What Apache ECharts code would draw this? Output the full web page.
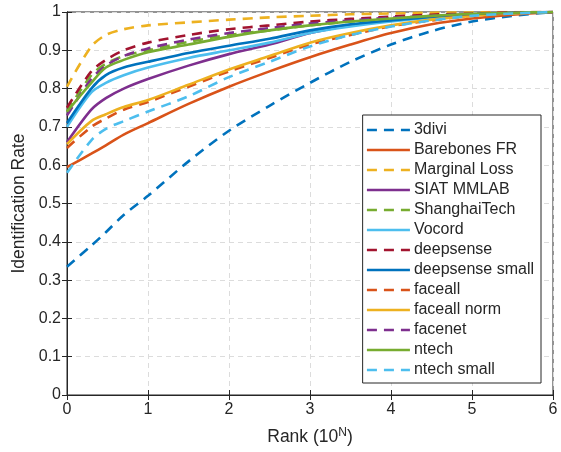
<!DOCTYPE html>
<html>
<head>
<meta charset="utf-8">
<script src="https://cdn.jsdelivr.net/npm/echarts@6/dist/echarts.min.js"></script>
<style>
  html, body { margin: 0; padding: 0; background: #fff; }
  #main { width: 561px; height: 452px; }
</style>
</head>
<body>
<div id="main"></div>
<script>
// log10(rank)
var ranks = [0, 0.3, 0.48, 0.7, 1, 1.5, 2, 2.5, 3, 3.5, 4, 4.5, 5, 5.5, 6];
var xTicks = [0, 1, 2, 3, 4, 5, 6];
var yTicks = [0, 0.1, 0.2, 0.3, 0.4, 0.5, 0.6, 0.7, 0.8, 0.9, 1];

var names = ['3divi', 'Barebones FR', 'Marginal Loss', 'SIAT MMLAB', 'ShanghaiTech', 'Vocord',
  'deepsense', 'deepsense small', 'faceall', 'faceall norm', 'facenet', 'ntech', 'ntech small'];
var colors = ['#0072BD', '#D95319', '#EDB120', '#7E2F8E', '#77AC30', '#4DBEEE',
  '#A2142F', '#0072BD', '#D95319', '#EDB120', '#7E2F8E', '#77AC30', '#4DBEEE'];
var dashed = [true, false, true, false, true, false, true, false, true, false, true, false, true];

var divi3         = [0.335, 0.39, 0.425, 0.47, 0.52, 0.61, 0.69, 0.755, 0.815, 0.87, 0.915, 0.95, 0.975, 0.99, 1];
var barebones     = [0.595, 0.63, 0.652, 0.68, 0.71, 0.76, 0.805, 0.845, 0.882, 0.915, 0.945, 0.968, 0.983, 0.993, 1];
var marginalLoss  = [0.805, 0.91, 0.94, 0.955, 0.965, 0.973, 0.98, 0.986, 0.99, 0.994, 0.996, 0.998, 0.999, 1, 1];
var siatMmlab     = [0.66, 0.745, 0.775, 0.8, 0.825, 0.86, 0.89, 0.915, 0.945, 0.965, 0.978, 0.988, 0.994, 0.998, 1];
var shanghaiTech  = [0.74, 0.835, 0.865, 0.885, 0.9, 0.922, 0.94, 0.952, 0.965, 0.975, 0.983, 0.989, 0.994, 0.998, 1];
var vocord        = [0.70, 0.79, 0.815, 0.835, 0.855, 0.88, 0.9, 0.92, 0.945, 0.962, 0.975, 0.985, 0.992, 0.997, 1];
var deepsense     = [0.75, 0.845, 0.875, 0.9, 0.92, 0.94, 0.955, 0.965, 0.975, 0.982, 0.988, 0.993, 0.996, 0.999, 1];
var deepsenseSm   = [0.71, 0.80, 0.835, 0.855, 0.87, 0.893, 0.912, 0.93, 0.952, 0.968, 0.978, 0.987, 0.993, 0.997, 1];
var faceall       = [0.645, 0.70, 0.722, 0.745, 0.765, 0.805, 0.845, 0.88, 0.915, 0.94, 0.963, 0.978, 0.99, 0.996, 1];
var faceallNorm   = [0.655, 0.715, 0.733, 0.752, 0.77, 0.81, 0.85, 0.885, 0.92, 0.945, 0.965, 0.98, 0.99, 0.996, 1];
var facenet       = [0.73, 0.825, 0.86, 0.885, 0.905, 0.928, 0.945, 0.958, 0.97, 0.978, 0.985, 0.99, 0.995, 0.998, 1];
var ntech         = [0.74, 0.815, 0.855, 0.875, 0.895, 0.915, 0.935, 0.952, 0.965, 0.975, 0.983, 0.99, 0.995, 0.998, 1];
var ntechSmall    = [0.58, 0.665, 0.695, 0.715, 0.74, 0.78, 0.83, 0.87, 0.91, 0.94, 0.962, 0.978, 0.99, 0.996, 1];

var values = [divi3, barebones, marginalLoss, siatMmlab, shanghaiTech, vocord, deepsense,
  deepsenseSm, faceall, faceallNorm, facenet, ntech, ntechSmall];

var txt = '#262626';
var font = 'Liberation Sans';

var series = names.map(function (n, i) {
  return {
    name: n,
    type: 'line',
    data: ranks.map(function (r, j) { return [r, values[i][j]]; }),
    showSymbol: false,
    symbol: 'none',
    smooth: 0.3,
    lineStyle: { color: colors[i], width: 2.6, type: dashed[i] ? [10, 7] : 'solid' },
    itemStyle: { color: colors[i] },
    z: 2 + i
  };
});

var chart = echarts.init(document.getElementById('main'));
chart.setOption({
  animation: false,
  textStyle: { fontFamily: font },
  grid: { left: 67, right: 8, top: 12, bottom: 57, show: true, borderColor: txt, borderWidth: 1, backgroundColor: 'transparent' },
  legend: {
    orient: 'vertical',
    right: 20,
    top: 115,
    data: names,
    itemWidth: 43,
    itemHeight: 16,
    itemGap: 4,
    padding: [7, 7, 5, 3],
    backgroundColor: '#fff',
    borderColor: txt,
    borderWidth: 1,
    borderRadius: 0,
    itemStyle: { color: 'transparent', borderWidth: 0, opacity: 0 },
    lineStyle: { width: 2.6 },
    textStyle: { fontFamily: font, fontSize: 16, color: txt, padding: [0, 0, 0, -1] }
  },
  xAxis: [{
    type: 'value', min: 0, max: 6, interval: 1,
    name: 'Rank (10{sup|N})',
    nameLocation: 'middle', nameGap: 32,
    nameTextStyle: { fontSize: 17.5, color: txt, rich: { sup: { fontSize: 12, verticalAlign: 'top', color: txt, padding: [0, 0, 8, 0] } } },
    axisLine: { show: true, lineStyle: { color: txt } },
    axisTick: { inside: true, length: 5, lineStyle: { color: txt } },
    axisLabel: { fontSize: 16, color: txt, margin: 7,
      formatter: function (v) { return xTicks.indexOf(v) >= 0 ? String(v) : ''; } },
    splitLine: { show: true, lineStyle: { color: '#dcdcdc', type: [5, 4] } }
  }, {
    type: 'value', min: 0, max: 6, interval: 1, position: 'top',
    axisLine: { show: true, lineStyle: { color: txt } },
    axisTick: { inside: true, length: 5, lineStyle: { color: txt } },
    axisLabel: { show: false }, splitLine: { show: false }
  }],
  yAxis: [{
    type: 'value', min: 0, max: 1, interval: 0.1,
    name: 'Identification Rate',
    nameLocation: 'middle', nameGap: 30,
    nameTextStyle: { fontSize: 17.5, color: txt },
    axisLine: { show: true, lineStyle: { color: txt } },
    axisTick: { inside: true, length: 5, lineStyle: { color: txt } },
    axisLabel: { fontSize: 16, color: txt, margin: 6,
      formatter: function (v) {
        var r = Math.round(v * 10) / 10;
        return yTicks.indexOf(r) >= 0 ? String(r) : '';
      } },
    splitLine: { show: true, lineStyle: { color: '#dcdcdc', type: [5, 4] } }
  }, {
    type: 'value', min: 0, max: 1, interval: 0.1, position: 'right',
    axisLine: { show: true, lineStyle: { color: txt } },
    axisTick: { inside: true, length: 5, lineStyle: { color: txt } },
    axisLabel: { show: false }, splitLine: { show: false }
  }],
  series: series
});
</script>
</body>
</html>
